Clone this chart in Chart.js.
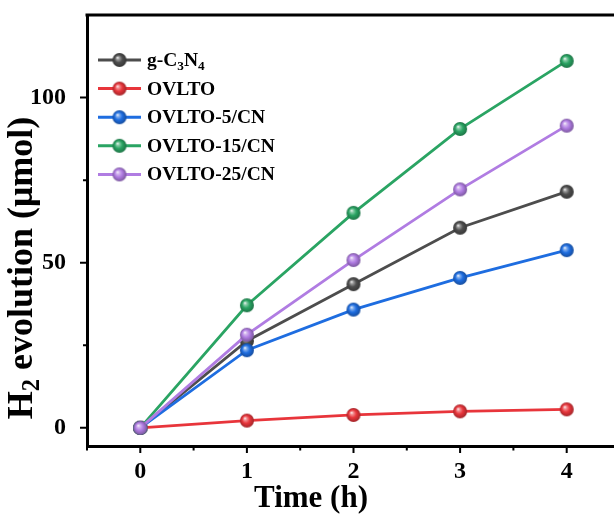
<!DOCTYPE html>
<html>
<head>
<meta charset="utf-8">
<script src="https://cdn.jsdelivr.net/npm/chart.js@4.4.1/dist/chart.umd.min.js"></script>
<style>
  html, body { margin: 0; padding: 0; background: #fff; overflow: hidden; }
  #wrap { position: relative; width: 640px; height: 521px; }
</style>
</head>
<body>
<div id="wrap"><canvas id="c" width="640" height="521"></canvas></div>
<script>
// Irradiation time (h)
const times = [0, 1, 2, 3, 4];

// Cumulative H2 evolution (µmol) per sample
const gC3N4     = [0, 26.3, 43.5, 60.6, 71.5];
const ovlto     = [0, 2.2, 3.9, 5.0, 5.6];
const ovlto5CN  = [0, 23.5, 35.8, 45.4, 53.8];
const ovlto15CN = [0, 37.1, 65.1, 90.5, 111.1];
const ovlto25CN = [0, 28.2, 50.8, 72.2, 91.5];

const seriesNames = ['g-C3N4', 'OVLTO', 'OVLTO-5/CN', 'OVLTO-15/CN', 'OVLTO-25/CN'];
const seriesValues = [gC3N4, ovlto, ovlto5CN, ovlto15CN, ovlto25CN];
const seriesColors = ['#4d4d4d', '#e8353b', '#1e6de0', '#2aa463', '#b07ce2'];

const xTicks = [0, 1, 2, 3, 4];
const yTicks = [0, 50, 100];
const yMinorTicks = [25, 75];

const SERIF = '"Liberation Serif", "Times New Roman", serif';

function shade(hex, f) {
  const n = parseInt(hex.slice(1), 16);
  let r = (n >> 16) & 255, g = (n >> 8) & 255, b = n & 255;
  const t = f < 0 ? 0 : 255, p = Math.abs(f);
  r = Math.round((t - r) * p + r); g = Math.round((t - g) * p + g); b = Math.round((t - b) * p + b);
  return 'rgb(' + r + ',' + g + ',' + b + ')';
}

// Glossy ball marker
function sphere(color, r) {
  const c = document.createElement('canvas');
  const s = 2 * r + 2;
  c.width = s; c.height = s;
  const g = c.getContext('2d');
  const cx = s / 2, cy = s / 2;
  const grad = g.createRadialGradient(cx - r * 0.3, cy - r * 0.35, 0, cx, cy, r);
  grad.addColorStop(0, '#ffffff');
  grad.addColorStop(0.22, shade(color, 0.45));
  grad.addColorStop(0.55, color);
  grad.addColorStop(1, shade(color, -0.3));
  g.fillStyle = grad;
  g.beginPath(); g.arc(cx, cy, r, 0, Math.PI * 2); g.fill();
  return c;
}

const markers = seriesColors.map(c => sphere(c, 7));

const datasets = seriesNames.map((name, i) => ({
  label: name,
  data: times.map((t, k) => ({ x: t, y: seriesValues[i][k] })),
  borderColor: seriesColors[i],
  backgroundColor: seriesColors[i],
  borderWidth: 2.8,
  pointStyle: markers[i],
  pointRadius: 7,
  tension: 0,
  order: seriesNames.length - i
}));

// Draws text runs with subscripts; returns total width
function richText(ctx, parts, x, y, size, measureOnly) {
  let w = 0;
  for (const p of parts) {
    const fs = p.sub ? size * 0.68 : size;
    ctx.font = 'bold ' + fs + 'px ' + SERIF;
    if (!measureOnly) ctx.fillText(p.t, x + w, y + (p.sub ? size * 0.28 : 0));
    w += ctx.measureText(p.t).width;
  }
  return w;
}

function labelParts(name) {
  if (name === 'g-C3N4') return [{ t: 'g-C' }, { t: '3', sub: true }, { t: 'N' }, { t: '4', sub: true }];
  return [{ t: name }];
}

const decorations = {
  id: 'decorations',
  afterDraw(chart) {
    const ctx = chart.ctx;
    const xs = chart.scales.x, ys = chart.scales.y;
    const area = chart.chartArea;
    ctx.save();
    ctx.strokeStyle = '#000';
    ctx.fillStyle = '#000';

    // top and right frame lines
    ctx.lineWidth = 3;
    ctx.beginPath();
    ctx.moveTo(area.left - 1.5, area.top);
    ctx.lineTo(area.right, area.top);
    ctx.lineTo(area.right, area.bottom);
    ctx.stroke();

    // tick marks (outward)
    ctx.lineWidth = 2;
    ctx.beginPath();
    for (let v = -0.5; v <= 4.5001; v += 0.5) {
      const px = xs.getPixelForValue(v);
      const major = Math.abs(v - Math.round(v)) < 1e-6;
      ctx.moveTo(px, area.bottom + 1);
      ctx.lineTo(px, area.bottom + (major ? 7 : 4.5));
    }
    yTicks.forEach(v => {
      const py = ys.getPixelForValue(v);
      ctx.moveTo(area.left - 1, py);
      ctx.lineTo(area.left - 7, py);
    });
    yMinorTicks.forEach(v => {
      const py = ys.getPixelForValue(v);
      ctx.moveTo(area.left - 1, py);
      ctx.lineTo(area.left - 4, py);
    });
    ctx.stroke();

    // axis titles
    ctx.textBaseline = 'middle';
    ctx.font = 'bold 31px ' + SERIF;
    ctx.textAlign = 'center';
    ctx.fillText('Time (h)', 311, 499);

    ctx.save();
    ctx.translate(23, 268);
    ctx.rotate(-Math.PI / 2);
    ctx.textAlign = 'left';
    const yParts = [{ t: 'H' }, { t: '2', sub: true }, { t: ' evolution (\u03bcmol)' }];
    const tw = richText(ctx, yParts, 0, 0, 36, true);
    richText(ctx, yParts, -tw / 2, 0, 36, false);
    ctx.restore();

    // legend
    ctx.textAlign = 'left';
    ctx.textBaseline = 'middle';
    chart.data.datasets.forEach((ds, i) => {
      const yy = 60 + i * 28.6;
      ctx.strokeStyle = ds.borderColor;
      ctx.lineWidth = 3;
      ctx.beginPath();
      ctx.moveTo(98, yy);
      ctx.lineTo(141, yy);
      ctx.stroke();
      const m = markers[i];
      ctx.drawImage(m, 119.5 - m.width / 2, yy - m.height / 2);
      ctx.fillStyle = '#000';
      richText(ctx, labelParts(ds.label), 147, yy + 1, 19.5, false);
    });
    ctx.restore();
  }
};

new Chart(document.getElementById('c'), {
  type: 'line',
  data: { datasets },
  plugins: [decorations],
  options: {
    responsive: false,
    animation: false,
    devicePixelRatio: 1,
    layout: { padding: { top: 15, right: 20, left: 0, bottom: 0 } },
    plugins: { legend: { display: false }, tooltip: { enabled: false } },
    scales: {
      x: {
        type: 'linear',
        min: -0.5,
        max: 4.5,
        afterBuildTicks: s => { s.ticks = xTicks.map(v => ({ value: v })); },
        afterFit: s => { s.height = 75; s.paddingLeft = 0; s.paddingRight = 0; },
        border: { color: '#000', width: 3 },
        grid: { drawOnChartArea: false, drawTicks: false },
        ticks: {
          color: '#000',
          padding: 11,
          font: { family: SERIF, size: 24, weight: 'bold' }
        }
      },
      y: {
        type: 'linear',
        min: -5.5,
        max: 125,
        afterBuildTicks: s => { s.ticks = yTicks.map(v => ({ value: v })); },
        afterFit: s => { s.width = 87; s.paddingTop = 0; s.paddingBottom = 0; },
        border: { color: '#000', width: 3 },
        grid: { drawOnChartArea: false, drawTicks: false },
        ticks: {
          color: '#000',
          padding: 21,
          font: { family: SERIF, size: 24, weight: 'bold' }
        }
      }
    }
  }
});
</script>
</body>
</html>
